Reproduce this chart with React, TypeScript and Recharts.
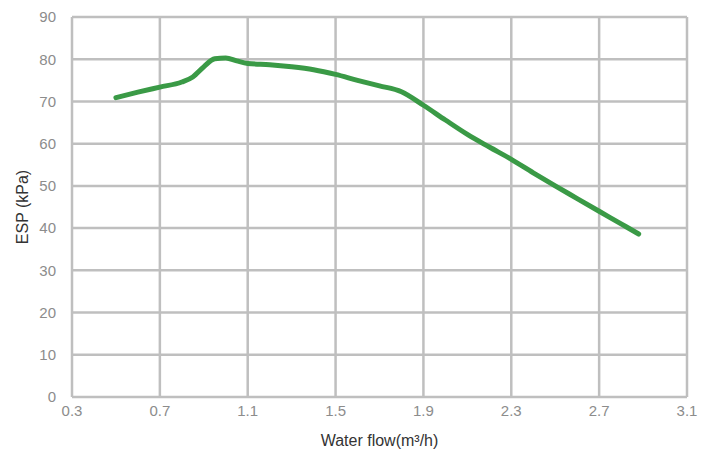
import { LineChart, Line, XAxis, YAxis, CartesianGrid } from "recharts"

// water flow (m3/h) and external static pressure (kPa)
const flowValues = [0.5, 0.6, 0.7, 0.8, 0.85, 0.9, 0.95, 1.0, 1.05, 1.1, 1.2, 1.3, 1.4, 1.5, 1.6, 1.7, 1.8, 1.9, 2.0, 2.1, 2.2, 2.3, 2.4, 2.5, 2.6, 2.7, 2.8, 2.88]
const espValues = [70.9, 72.2, 73.4, 74.6, 75.8, 78.2, 80.1, 80.3, 79.6, 79.0, 78.7, 78.2, 77.5, 76.4, 75.0, 73.7, 72.3, 69.1, 65.6, 62.2, 59.2, 56.3, 53.1, 50.0, 47.0, 44.0, 41.0, 38.6]

const xTicks = [0.3, 0.7, 1.1, 1.5, 1.9, 2.3, 2.7, 3.1]
const yTicks = [0, 10, 20, 30, 40, 50, 60, 70, 80, 90]

const data = flowValues.map((flow, i) => ({ flow, esp: espValues[i] }))

const font = "'Liberation Sans', Arial, sans-serif"

export default function App() {
  return (
    <div style={{ position: "absolute", left: 0, top: 0, width: 715, height: 459, background: "#fff", fontFamily: font }}>
      <LineChart width={715} height={459} data={data} margin={{ top: 17, right: 28, left: 12, bottom: 0 }}>
        <CartesianGrid stroke="#bfbfbf" strokeWidth={2.5} />
        <XAxis
          dataKey="flow"
          type="number"
          domain={[0.3, 3.1]}
          ticks={xTicks}
          tickFormatter={(v) => v.toFixed(1)}
          axisLine={false}
          tickLine={false}
          height={62}
          tick={{ fontSize: 15, fill: "#8c8c8c", fontFamily: font }}
          label={{ value: "Water flow(m³/h)", position: "insideBottom", offset: 13, fontSize: 16, fill: "#333", fontFamily: font }}
        />
        <YAxis
          type="number"
          domain={[0, 90]}
          ticks={yTicks}
          axisLine={false}
          tickLine={false}
          width={60}
          tickMargin={10}
          tick={{ fontSize: 15, fill: "#8c8c8c", fontFamily: font }}
          label={{ value: "ESP (kPa)", angle: -90, position: "insideLeft", offset: 10, fontSize: 16, fill: "#333", fontFamily: font, style: { textAnchor: "middle" } }}
        />
        <Line
          type="monotone"
          dataKey="esp"
          stroke="#3a9a46"
          strokeWidth={5}
          strokeLinecap="round"
          dot={false}
          isAnimationActive={false}
        />
      </LineChart>
    </div>
  )
}
